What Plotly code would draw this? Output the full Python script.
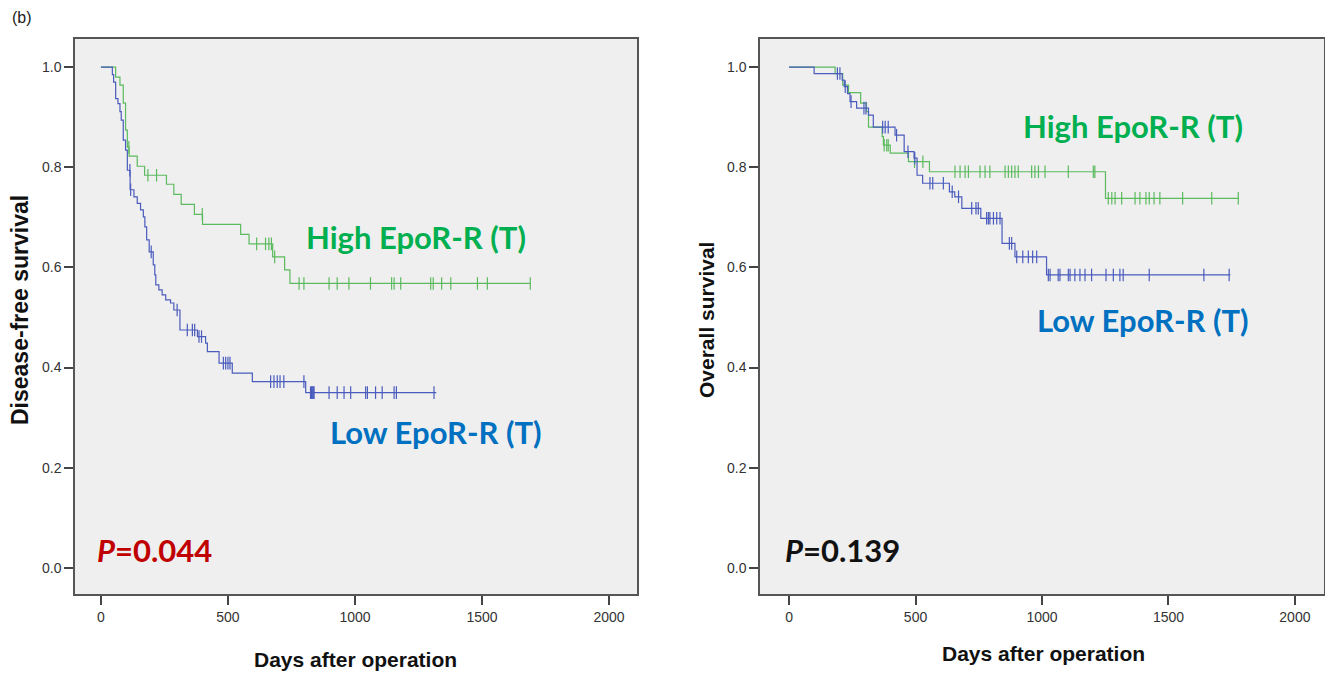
import plotly.graph_objects as go

# disease-free survival, high EpoR-R (step times in days, survival after step)
dfs_high_t = [0, 58, 75, 88, 97, 104, 111, 143, 172, 258, 287, 316, 368, 400, 550, 583, 676, 723, 744, 1690]
dfs_high_s = [1.0, 0.98, 0.964, 0.928, 0.874, 0.84, 0.822, 0.802, 0.784, 0.766, 0.746, 0.726, 0.706, 0.686, 0.666, 0.647, 0.621, 0.595, 0.568, 0.568]
dfs_high_cens = [110, 185, 219, 399, 613, 648, 661, 671, 684, 780, 799, 898, 930, 976, 1061, 1144, 1154, 1180,
                 1298, 1308, 1341, 1377, 1482, 1521, 1690]

# disease-free survival, low EpoR-R
dfs_low_t = [0, 45, 50, 58, 67, 75, 80, 88, 97, 104, 115, 130, 143, 156, 167, 173, 180, 190, 206, 212, 216,
             228, 241, 255, 274, 287, 311, 380, 412, 419, 465, 517, 596, 806, 1320]
dfs_low_s = [1.0, 0.985, 0.97, 0.937, 0.927, 0.911, 0.894, 0.854, 0.834, 0.794, 0.755, 0.741, 0.728, 0.715, 0.701,
             0.681, 0.655, 0.631, 0.605, 0.585, 0.565, 0.555, 0.545, 0.535, 0.529, 0.515, 0.475, 0.462, 0.449,
             0.432, 0.409, 0.389, 0.372, 0.35, 0.35]
dfs_low_cens = [114, 117, 198, 300, 340, 360, 369, 386, 396, 482, 491, 500, 508, 668, 681, 694, 705, 720, 799,
                825, 829, 832, 836, 839, 898, 930, 957, 983, 1042, 1049, 1081, 1107, 1154, 1163, 1311]

# overall survival, high EpoR-R
os_high_t = [0, 182, 212, 235, 283, 306, 314, 368, 373, 400, 472, 555, 1251, 1776]
os_high_s = [1.0, 0.987, 0.964, 0.949, 0.928, 0.911, 0.88, 0.861, 0.844, 0.828, 0.811, 0.791, 0.738, 0.738]
os_high_cens = [376, 386, 392, 496, 529, 656, 676, 696, 709, 755, 775, 794, 854, 867, 880, 893, 906, 959, 972,
                986, 1012, 1104, 1203, 1209, 1262, 1276, 1289, 1315, 1368, 1387, 1411, 1424, 1443, 1466, 1556,
                1671, 1776]

# overall survival, low EpoR-R
os_low_t = [0, 99, 210, 218, 231, 241, 267, 314, 333, 419, 455, 494, 506, 528, 634, 655, 683, 758, 842, 893,
            1018, 1745]
os_low_s = [1.0, 0.987, 0.974, 0.961, 0.947, 0.931, 0.918, 0.904, 0.88, 0.864, 0.831, 0.818, 0.784, 0.768,
            0.751, 0.741, 0.718, 0.698, 0.648, 0.621, 0.585, 0.585]
os_low_cens = [191, 201, 222, 245, 296, 304, 370, 380, 392, 425, 470, 497, 557, 568, 610, 645, 670, 722, 739,
               748, 781, 788, 794, 808, 821, 834, 871, 880, 900, 924, 946, 963, 979, 1025, 1032, 1064, 1071,
               1104, 1111, 1130, 1150, 1170, 1196, 1253, 1282, 1308, 1321, 1424, 1640, 1740]

x_ticks = [0, 500, 1000, 1500, 2000]
y_ticks = [0.0, 0.2, 0.4, 0.6, 0.8, 1.0]

green = "#5cba5f"
blue = "#4a5cbd"


def surv_at(t, times, surv):
    s = surv[0]
    for ti, si in zip(times, surv):
        if ti <= t:
            s = si
    return s


def add_curve(fig, times, surv, cens, color, xa, ya):
    fig.add_trace(go.Scatter(x=times, y=surv, mode="lines", line=dict(color=color, width=1.2, shape="hv"),
                             xaxis=xa, yaxis=ya, showlegend=False, hoverinfo="skip"))
    fig.add_trace(go.Scatter(x=cens, y=[surv_at(c, times, surv) for c in cens], mode="markers",
                             marker=dict(symbol="line-ns", size=9, line=dict(color=color, width=1.2)),
                             xaxis=xa, yaxis=ya, showlegend=False, hoverinfo="skip"))


fig = go.Figure()
add_curve(fig, dfs_high_t, dfs_high_s, dfs_high_cens, green, "x", "y")
add_curve(fig, dfs_low_t, dfs_low_s, dfs_low_cens, blue, "x", "y")
add_curve(fig, os_high_t, os_high_s, os_high_cens, green, "x2", "y2")
add_curve(fig, os_low_t, os_low_s, os_low_cens, blue, "x2", "y2")

# page has an 8px body margin, so lay out in window pixels minus that
OFF = 8
W, H = 1333 - OFF, 675 - OFF


def px(x):
    return (x - OFF) / W


def py(y):
    return 1 - (y - OFF) / H


axis_style = dict(showline=True, mirror=True, linecolor="#555555", linewidth=1.5, showgrid=False,
                  zeroline=False, ticks="outside", ticklen=9, tickwidth=1.5, tickcolor="#444444",
                  tickfont=dict(family="Liberation Sans, Arial", size=14, color="#333333"))

fig.update_layout(
    width=W, height=H,
    margin=dict(l=0, r=0, t=0, b=0),
    paper_bgcolor="white",
    plot_bgcolor="#efefef",
    xaxis=dict(domain=[px(75), px(637)], range=[-102, 2110], tickvals=x_ticks, anchor="y", **axis_style),
    yaxis=dict(domain=[py(594), py(39)], range=[-0.052, 1.056], tickvals=y_ticks, tickformat=".1f",
               anchor="x", **axis_style),
    xaxis2=dict(domain=[px(760), px(1324)], range=[-115, 2115], tickvals=x_ticks, anchor="y2", **axis_style),
    yaxis2=dict(domain=[py(594), py(39)], range=[-0.052, 1.056], tickvals=y_ticks, tickformat=".1f",
                anchor="x2", **axis_style),
)

lab_font = "Lato, Open Sans, sans-serif"
title_font = dict(family="Liberation Sans Narrow, Arial Narrow, Liberation Sans", size=21, color="#111111")

annots = [
    dict(text="(b)", x=px(10), y=py(18), xref="paper", yref="paper", xanchor="left", yanchor="middle",
         showarrow=False, font=dict(family="Liberation Sans, Arial", size=16, color="#222222")),
    dict(text="<b>Days after operation</b>", x=px(355), y=py(659), xref="paper", yref="paper",
         xanchor="center", yanchor="middle", showarrow=False, font=title_font),
    dict(text="<b>Days after operation</b>", x=px(1043), y=py(653), xref="paper", yref="paper",
         xanchor="center", yanchor="middle", showarrow=False, font=title_font),
    dict(text="<b>Disease-free survival</b>", x=px(20), y=py(310), xref="paper", yref="paper",
         xanchor="center", yanchor="middle", textangle=-90, showarrow=False, font=dict(title_font, size=23)),
    dict(text="<b>Overall survival</b>", x=px(706), y=py(320), xref="paper", yref="paper",
         xanchor="center", yanchor="middle", textangle=-90, showarrow=False, font=title_font),
    dict(text="<b>High EpoR-R (T)</b>", x=1240, y=0.661, xref="x", yref="y", showarrow=False,
         font=dict(family=lab_font, size=31, color="#00b050")),
    dict(text="<b>Low EpoR-R (T)</b>", x=1319, y=0.271, xref="x", yref="y", showarrow=False,
         font=dict(family=lab_font, size=31, color="#0070c0")),
    dict(text="<b>High EpoR-R (T)</b>", x=1360, y=0.882, xref="x2", yref="y2", showarrow=False,
         font=dict(family=lab_font, size=31, color="#00b050")),
    dict(text="<b>Low EpoR-R (T)</b>", x=1399, y=0.495, xref="x2", yref="y2", showarrow=False,
         font=dict(family=lab_font, size=31, color="#0070c0")),
    dict(text="<b><i>P</i>=0.044</b>", x=-22, y=0.036, xref="x", yref="y", xanchor="left", showarrow=False,
         font=dict(family=lab_font, size=31, color="#c00000")),
    dict(text="<b><i>P</i>=0.139</b>", x=-24, y=0.036, xref="x2", yref="y2", xanchor="left", showarrow=False,
         font=dict(family=lab_font, size=31, color="#111111")),
]
fig.update_layout(annotations=annots)

fig.write_html("out.html")
